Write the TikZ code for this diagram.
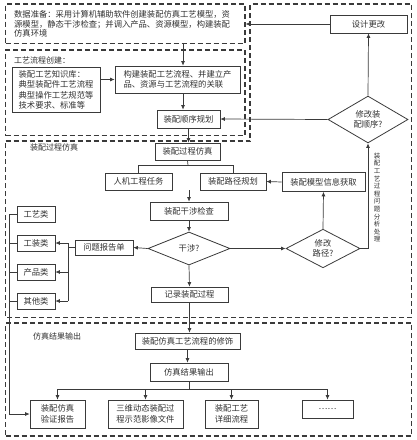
\documentclass[tikz,border=0pt]{standalone}
\usepackage{fontspec}
\setmainfont{Noto Sans CJK SC}
\usetikzlibrary{arrows.meta, shapes.geometric}
\definecolor{linegray}{HTML}{3A3A3A}
\definecolor{textgray}{HTML}{303030}

\begin{document}
\begin{tikzpicture}[
    x=1pt, y=-1pt,
    >={Latex[length=4.5pt,width=4pt]},
    line cap=butt,
    every node/.style={font=\fontsize{8.3}{10.4}\selectfont, text=textgray, inner sep=0pt},
    procbox/.style={draw=linegray, line width=0.7pt, align=center},
    decide/.style={draw=linegray, line width=0.8pt, diamond, aspect=1, align=center},
    zone/.style={draw=linegray, line width=1.1pt, dash pattern=on 5pt off 3pt},
    zonelabel/.style={font=\fontsize{8}{10}\selectfont, anchor=west},
    link/.style={draw=linegray, line width=0.7pt}
]
\useasboundingbox (0,0) rectangle (416,440);

% Dashed zones
\node[zone, minimum width=239.5pt, minimum height=39.5pt] (prepzone) at (125.25,23.75) {};
\node[zone, minimum width=239.5pt, minimum height=85.5pt] (flowzone) at (125.25,92.75) {};
\draw[zone] (5.5,141) -- (250,141) -- (250,4) -- (411.5,4) -- (411.5,317.5) -- (5.5,317.5) -- cycle;
\node[zone, minimum width=406pt, minimum height=113pt] (outzone) at (208.5,379.5) {};

% Zone texts
\node[anchor=west, align=left, font=\fontsize{8.3}{9.3}\selectfont] (prep) at (14,24)
    {数据准备：采用计算机辅助软件创建装配仿真工艺模型，资\\源模型，静态干涉检查；并调入产品、资源模型，构建装配\\仿真环境};
\node[zonelabel] (flowlabel) at (14,60) {工艺流程创建：};
\node[zonelabel] (simlabel) at (30,147) {装配过程仿真};
\node[zonelabel] (outlabel) at (33,336) {仿真结果输出};

% Process creation
\node[procbox, align=left, minimum width=88pt, minimum height=45pt] (kb) at (56,90)
    {装配工艺知识库：\\典型装配件工艺流程\\典型操作工艺规范等\\技术要求、标准等};
\node[procbox, align=left, minimum width=125pt, minimum height=27pt] (build) at (177.5,79.5)
    {构建装配工艺流程、并建立产\\品、资源与工艺流程的关联};
\node[procbox, minimum width=63pt, minimum height=18pt] (plan) at (188.5,119) {装配顺序规划};

% Design change loop
\node[procbox, minimum width=77pt, minimum height=18pt] (redesign) at (368.5,24) {设计更改};
\node[decide, minimum width=80pt, minimum height=35pt] (modorder) at (368,119.5) {修改装\\配顺序?};

% Simulation
\node[procbox, minimum width=65pt, minimum height=17pt] (sim) at (187.5,151.5) {装配过程仿真};
\node[procbox, minimum width=67pt, minimum height=17pt] (ergo) at (138.5,181.5) {人机工程任务};
\node[procbox, minimum width=66pt, minimum height=17pt] (path) at (233,181.5) {装配路径规划};
\node[procbox, minimum width=83pt, minimum height=19pt] (info) at (323.5,182) {装配模型信息获取};
\node[procbox, minimum width=78pt, minimum height=18pt] (check) at (189,211) {装配干涉检查};
\node[decide, minimum width=82pt, minimum height=33pt] (interf) at (189,248.5) {干涉?};
\node[decide, minimum width=74pt, minimum height=33pt] (modpath) at (323,248.5) {修改\\路径?};
\node[procbox, minimum width=58pt, minimum height=15pt] (report) at (104,247.5) {问题报告单};
\node[procbox, minimum width=77pt, minimum height=15pt] (record) at (189.5,294.5) {记录装配过程};
\node[font=\fontsize{6.5}{7.6}\selectfont, align=center] (note) at (377,197.5)
    {装\\配\\工\\艺\\过\\程\\问\\题\\分\\析\\处\\理};

% Problem categories
\node[procbox, minimum width=38pt, minimum height=16pt] (cat1) at (36,214) {工艺类};
\node[procbox, minimum width=38pt, minimum height=16pt] (cat2) at (36,243) {工装类};
\node[procbox, minimum width=38pt, minimum height=16pt] (cat3) at (36,272) {产品类};
\node[procbox, minimum width=38pt, minimum height=16pt] (cat4) at (36,301) {其他类};

% Results output
\node[procbox, minimum width=105pt, minimum height=16pt] (refine) at (187.5,341) {装配仿真工艺流程的修饰};
\node[procbox, minimum width=78pt, minimum height=18pt] (output) at (189,372) {仿真结果输出};
\node[procbox, minimum width=55pt, minimum height=28pt] (rep) at (57.5,414) {装配仿真\\验证报告};
\node[procbox, minimum width=75pt, minimum height=28pt] (video) at (145.5,414) {三维动态装配过\\程示范影像文件};
\node[procbox, minimum width=53pt, minimum height=28pt] (detail) at (231.5,414) {装配工艺\\详细流程};
\node[procbox, minimum width=51pt, minimum height=18pt] (more) at (327.5,409) {……};

% Helper points
\coordinate (feed) at (183,0);
\coordinate (branch) at (188,165.5);
\coordinate (merge) at (189,190);
\coordinate (rail) at (9.5,214);
\coordinate (split) at (68,247.5);
\coordinate (fork) at (189,389);

% Connectors: preparation and process creation
\draw[link, ->] (prepzone.south -| feed) -- (build.north -| feed);
\draw[link, ->] (kb.east |- build.west) -- (build.west);
\draw[link, ->] (build.south -| feed) -- (plan.north -| feed);
\draw[link, ->] (plan.south) -- (plan.south |- sim.north);
\draw[link, ->] (modorder.west) -- (plan.east);
\draw[link, ->] (modorder.north) -- (redesign.south);
\draw[link, ->] (redesign.west) -- (redesign.west -| prepzone.east);

% Connectors: simulation
\draw[link] (sim.south) -- (branch);
\draw[link] (ergo.north) |- (branch) -| (path.north);
\draw[link, ->] (merge) -- (check.north);
\draw[link, ->] (info.west) -- (path.east);
\draw[link, ->] (check.south) -- (interf.north);
\draw[link, ->] (interf.west) -- (report.east);
\draw[link, ->] (interf.east) -- (modpath.west);
\draw[link, ->] (modpath.north) -- (info.south);
\draw[link, ->] (modpath.east) -| (modorder.south);
\draw[link, ->] (interf.south) -- (record.north);

% Connectors: problem categories
\draw[link] (report.west) -- (split);
\draw[link] (split |- cat2) -- (split |- cat4);
\foreach \i in {2,3,4}
    \draw[link, ->] (split |- cat\i) -- (cat\i.east);
\draw[link, ->] (cat1.west) -- (rail) |- (rep.west);
\foreach \i in {2,3,4}
    \draw[link] (cat\i.west) -- (cat\i.west -| rail);

% Connectors: results output
\draw[link, ->] (record.south) -- (record.south |- refine.north);
\draw[link, ->] (refine.south) -- (refine.south |- output.north);
\draw[link] (output.south) -- (fork);
\draw[link] (rep.north |- fork) -- (more.north |- fork);
\foreach \b in {rep, video, detail, more}
    \draw[link, ->] (\b.north |- fork) -- (\b.north);

\end{tikzpicture}
\end{document}
